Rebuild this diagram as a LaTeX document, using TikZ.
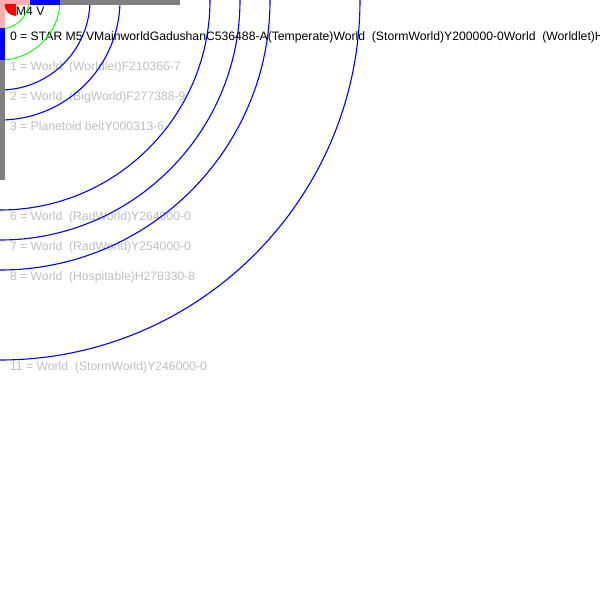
\documentclass[tikz,border=0pt]{standalone}
\usepackage{fontspec}
\setmainfont{Liberation Sans}
\definecolor{zonepink}{RGB}{255,175,175}
\definecolor{zoneblue}{RGB}{0,0,255}
\definecolor{zonegray}{RGB}{128,128,128}
\definecolor{orbitblue}{RGB}{0,0,255}
\definecolor{habgreen}{RGB}{0,255,0}
\definecolor{faint}{RGB}{192,192,192}
\definecolor{starred}{RGB}{255,0,0}
\begin{document}
\begin{tikzpicture}[x=1pt,y=-1pt,
  lbl/.style={anchor=base west, inner sep=0pt, outer sep=0pt, font=\fontsize{12.2}{14}\selectfont},
  primary/.style={lbl, text=black},
  minor/.style={lbl, text=faint},
  orbit/.style={draw=orbitblue, line width=1.1pt},
  habzone/.style={draw=habgreen, line width=0.9pt}]
\useasboundingbox (0,0) rectangle (600,600);
\fill[white] (0,0) rectangle (600,600);
\clip (0,0) rectangle (600,600);
\coordinate (sun) at (0,0);

% system listing
\node[primary] (sp)  at (16,15)    {M4 V};
\node[primary] (b0)  at (10,40.5)  {0 = STAR M5 VMainworldGadushanC536488-A(Temperate)World\ \ (StormWorld)Y200000-0World\ \ (Worldlet)H};
\node[minor]   (b1)  at (10,70.5)  {1 = World\ \ (Worldlet)F210366-7};
\node[minor]   (b2)  at (10,100.5) {2 = World\ \ (BigWorld)F277388-9};
\node[minor]   (b3)  at (10,130.5) {3 = Planetoid beltY000313-6};
\node[minor]   (b6)  at (10,220.5) {6 = World\ \ (RadWorld)Y264000-0};
\node[minor]   (b7)  at (10,250.5) {7 = World\ \ (RadWorld)Y254000-0};
\node[minor]   (b8)  at (10,280.5) {8 = World\ \ (Hospitable)H278330-8};
\node[minor]   (b11) at (10,370.5) {11 = World\ \ (StormWorld)Y246000-0};

% habitable zone limits
\draw[habzone] (sun) circle[radius=29];
\draw[habzone] (sun) circle[radius=60];

% orbits
\foreach \r in {90,120,210,240,270,360}
  \draw[orbit] (sun) circle[radius=\r];

% zone scale bars along the edges
\fill[zonepink] (0,0) rectangle (30,4.5);
\fill[zoneblue] (30,0) rectangle (60,4.5);
\fill[zonegray] (60,0) rectangle (180,4.5);
\fill[zonepink] (0,0) rectangle (5,28);
\fill[zoneblue] (0,28) rectangle (5,60);
\fill[zonegray] (0,60) rectangle (5,180);

% primary star
\begin{scope}
  \clip (4.5,4.5) rectangle (16,15.5);
  \fill[starred] (16,4.5) circle[radius=11.5];
\end{scope}
\end{tikzpicture}
\end{document}
